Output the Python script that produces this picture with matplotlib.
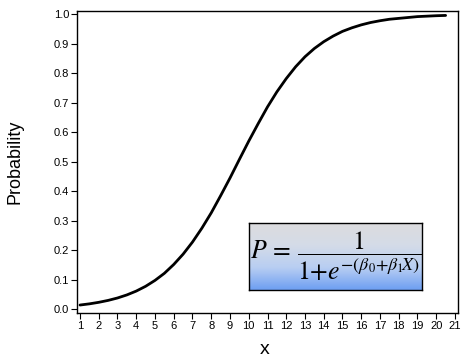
import numpy as np
import matplotlib
matplotlib.use("Agg")
import matplotlib.pyplot as plt
from matplotlib.colors import LinearSegmentedColormap

plt.rcParams['font.family'] = ['Liberation Sans', 'DejaVu Sans']
plt.rcParams['mathtext.fontset'] = 'stix'

# значення кривої
x_vals = [1, 1.5, 2, 2.5, 3, 3.5, 4, 4.5, 5, 5.5, 6, 6.5, 7, 7.5, 8, 8.5, 9, 9.5, 10, 10.5,
          11, 11.5, 12, 12.5, 13, 13.5, 14, 14.5, 15, 15.5, 16, 16.5, 17, 17.5, 18, 18.5,
          19, 19.5, 20, 20.5]
p_vals = [0.0145, 0.0185, 0.0237, 0.0302, 0.0384, 0.0488, 0.0618, 0.078, 0.098, 0.122,
          0.152, 0.187, 0.228, 0.275, 0.327, 0.385, 0.445, 0.508, 0.570, 0.629,
          0.686, 0.737, 0.782, 0.822, 0.856, 0.884, 0.907, 0.926, 0.942, 0.954,
          0.964, 0.972, 0.978, 0.983, 0.986, 0.989, 0.992, 0.9935, 0.995, 0.996]
x_ticks = list(range(1, 22))
y_ticks = [0.0, 0.1, 0.2, 0.3, 0.4, 0.5, 0.6, 0.7, 0.8, 0.9, 1.0]

fig = plt.figure(figsize=(4.64, 3.63), dpi=100)
ax = fig.add_axes([77 / 464, 1 - 313 / 363, 381 / 464, 302 / 363])

ax.plot(x_vals, p_vals, color='black', lw=2.0, solid_capstyle='round')
ax.set_xlim(0.84, 21.16)
ax.set_ylim(-0.0125, 1.011)
ax.set_xticks(x_ticks)
ax.set_yticks(y_ticks)
ax.set_yticklabels([f"{v:.1f}" for v in y_ticks])
ax.tick_params(direction='out', length=4, width=0.8, labelsize=8, pad=1.5, colors='black')
for s in ax.spines.values():
    s.set_linewidth(1.0)

fig.text(15 / 464, 1 - 162 / 363, "Probability", rotation=90, fontsize=13,
         ha='center', va='center')
fig.text(265 / 464, 1 - 350 / 363, "x", fontsize=14, ha='center', va='center')

# рамка з формулою
box = fig.add_axes([249 / 464, 1 - 290 / 363, 173 / 464, 67 / 363])
cmap = LinearSegmentedColormap.from_list(
    "grad", ["#dcdcde", "#d4dbe8", "#b8cef2", "#6e9ff2"])
grad = np.linspace(0, 1, 100).reshape(-1, 1)
box.imshow(grad, aspect='auto', cmap=cmap, extent=[0, 1, 0, 1], origin='upper')
box.set_xlim(0, 1)
box.set_ylim(0, 1)
box.set_xticks([])
box.set_yticks([])
for s in box.spines.values():
    s.set_linewidth(1.0)
box.text(0.5, 0.5, r"$P\,{=}\,\dfrac{1}{1{+}e^{-(\beta_0{+}\beta_1\!X)}}$", fontsize=18.5,
         ha='center', va='center', transform=box.transAxes)

fig.savefig("out.png", dpi=100)
